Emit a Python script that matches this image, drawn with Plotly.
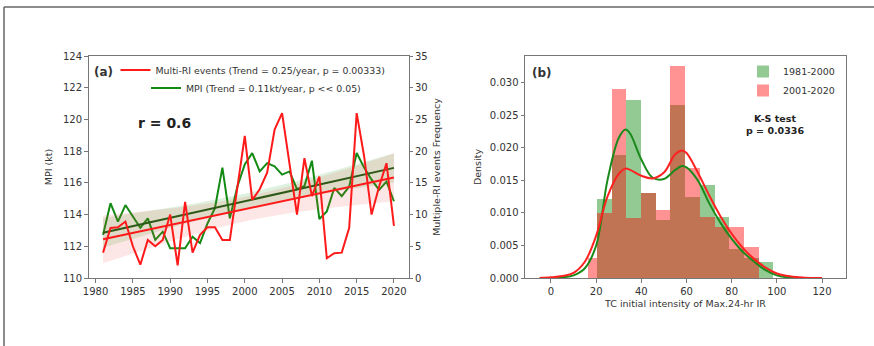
import numpy as np
import plotly.graph_objects as go

# ---------------- data: panel (a) ----------------
years = list(range(1981, 2021))
# MPI (kt), left axis
mpi_kt = [112.72, 114.72, 113.56, 114.6, 113.88, 113.16, 113.76, 112.4, 112.92, 111.88,
          111.88, 111.88, 112.6, 112.2, 113.44, 114.4, 116.96, 113.76, 115.76, 117.16,
          117.88, 116.72, 117.24, 117.04, 116.52, 116.72, 115.6, 115.8, 117.4, 113.72,
          114.2, 115.68, 115.16, 115.76, 117.88, 116.96, 116.2, 115.56, 116.08, 114.84]
# Multi-RI events frequency, right axis
multi_ri = [4.0, 7.9, 8.0, 8.9, 5.0, 2.1, 6.0, 5.0, 6.0, 10.0,
            2.0, 12.0, 4.0, 6.8, 8.0, 8.0, 6.0, 6.0, 14.2, 22.4,
            12.3, 14.0, 16.6, 23.4, 26.0, 18.0, 10.0, 18.9, 12.9, 16.0,
            3.1, 3.9, 4.0, 7.9, 26.0, 19.2, 10.0, 14.4, 18.1, 8.2]
# trend lines (value at first year, slope per year)
mpi_trend = [112.85, 0.105]
ri_trend = [6.1, 0.25]

# ---------------- data: panel (b) ----------------
g_edges = [20.4, 26.9, 33.4, 39.9, 46.4, 52.9, 59.4, 65.9, 72.4, 78.9, 85.4, 91.9, 98.4]
g_dens = [0.0121, 0.0189, 0.0274, 0.0130, 0.0089, 0.0266, 0.0125, 0.0143, 0.0094, 0.0045, 0.0030, 0.0025]
r_edges = [16.6, 20.4, 26.9, 33.4, 39.9, 46.4, 52.9, 59.4, 65.9, 72.4, 78.9, 85.4, 91.9]
r_dens = [0.0030, 0.0100, 0.0291, 0.0092, 0.0130, 0.0104, 0.0325, 0.0169, 0.0094, 0.0079, 0.0079, 0.0048]

kde_x = [-5, 0, 5, 10, 15, 20, 25, 30, 33, 35, 40, 45, 50, 55, 58, 60, 65, 70, 75, 80,
         85, 90, 95, 100, 105, 110, 115, 120]
kde_g = [0.0, 0.0, 0.0001, 0.0004, 0.0015, 0.0050, 0.0150, 0.0215, 0.0228, 0.0222, 0.0182, 0.0154,
         0.0152, 0.0166, 0.0172, 0.0170, 0.0150, 0.0115, 0.0085, 0.0060, 0.0040, 0.0025,
         0.0012, 0.0004, 0.0001, 0.0, 0.0, 0.0]
kde_r = [0.0, 0.0001, 0.0003, 0.0008, 0.0025, 0.0065, 0.0125, 0.0160, 0.0168, 0.0166, 0.0157, 0.0153,
         0.0162, 0.0190, 0.0196, 0.0192, 0.0162, 0.0127, 0.0095, 0.0068, 0.0046, 0.0029,
         0.0016, 0.0007, 0.0003, 0.0001, 0.0, 0.0]

# ---------------- helpers ----------------
W, H = 874, 346
def px(x):
    return x / W
def py(y):
    return (H - y) / H

FONT = "DejaVu Sans"
TXT = "#333333"
AX = "#777777"

yr = np.array(years, dtype=float)

def trend_band(vals, trend):
    v = np.array(vals, dtype=float)
    line = trend[0] + trend[1] * (yr - yr[0])
    resid = v - line
    n = len(v)
    s = np.sqrt(np.sum(resid ** 2) / (n - 2))
    sxx = np.sum((yr - yr.mean()) ** 2)
    half = 2.02 * s * np.sqrt(1.0 / n + (yr - yr.mean()) ** 2 / sxx)
    return line, line - half, line + half

mpi_line, mpi_lo, mpi_hi = trend_band(mpi_kt, mpi_trend)
ri_line, ri_lo, ri_hi = trend_band(multi_ri, ri_trend)

fig = go.Figure()

# --- panel (a), left axis (MPI) ---
fig.add_trace(go.Scatter(x=years, y=list(mpi_lo), mode="lines", line=dict(width=0),
                         showlegend=False, hoverinfo="skip", xaxis="x", yaxis="y"))
fig.add_trace(go.Scatter(x=years, y=list(mpi_hi), mode="lines", line=dict(width=0),
                         fill="tonexty", fillcolor="rgba(0,140,0,0.13)",
                         showlegend=False, hoverinfo="skip", xaxis="x", yaxis="y"))
fig.add_trace(go.Scatter(x=years, y=mpi_kt, mode="lines", line=dict(color="#138a13", width=2),
                         name="MPI (Trend = 0.11kt/year, p << 0.05)", legend="legend2",
                         xaxis="x", yaxis="y"))
fig.add_trace(go.Scatter(x=years, y=list(mpi_line), mode="lines",
                         line=dict(color="#105c10", width=2), showlegend=False,
                         xaxis="x", yaxis="y"))

# --- panel (a), right axis (Multi-RI) ---
fig.add_trace(go.Scatter(x=years, y=list(ri_lo), mode="lines", line=dict(width=0),
                         showlegend=False, hoverinfo="skip", xaxis="x", yaxis="y2"))
fig.add_trace(go.Scatter(x=years, y=list(ri_hi), mode="lines", line=dict(width=0),
                         fill="tonexty", fillcolor="rgba(240,70,60,0.13)",
                         showlegend=False, hoverinfo="skip", xaxis="x", yaxis="y2"))
fig.add_trace(go.Scatter(x=years, y=multi_ri, mode="lines", line=dict(color="#ff1a1a", width=2),
                         name="Multi-RI events (Trend = 0.25/year, p = 0.00333)", legend="legend",
                         xaxis="x", yaxis="y2"))
fig.add_trace(go.Scatter(x=years, y=list(ri_line), mode="lines",
                         line=dict(color="#ff1a1a", width=2), showlegend=False,
                         xaxis="x", yaxis="y2"))

# --- panel (b) histograms ---
def centers(edges):
    return [(edges[i] + edges[i + 1]) / 2 for i in range(len(edges) - 1)]
def widths(edges):
    return [edges[i + 1] - edges[i] for i in range(len(edges) - 1)]

fig.add_trace(go.Bar(x=centers(g_edges), y=g_dens, width=widths(g_edges),
                     marker=dict(color="green", line=dict(width=0)), opacity=0.42,
                     name="1981-2000", legend="legend3", xaxis="x2", yaxis="y3"))
fig.add_trace(go.Bar(x=centers(r_edges), y=r_dens, width=widths(r_edges),
                     marker=dict(color="red", line=dict(width=0)), opacity=0.42,
                     name="2001-2020", legend="legend3", xaxis="x2", yaxis="y3"))
fig.add_trace(go.Scatter(x=kde_x, y=kde_g, mode="lines", line=dict(color="#1a8a1a", width=2, shape="spline"),
                         showlegend=False, xaxis="x2", yaxis="y3"))
fig.add_trace(go.Scatter(x=kde_x, y=kde_r, mode="lines", line=dict(color="#ff2020", width=2, shape="spline"),
                         showlegend=False, xaxis="x2", yaxis="y3"))

tickfont = dict(family=FONT, size=10, color=TXT)
axcommon = dict(showline=True, linecolor=AX, linewidth=1, ticks="outside",
                ticklen=3.5, tickcolor=AX, showgrid=False, zeroline=False, tickfont=tickfont,
                automargin=False)
titlefont = dict(family=FONT, size=9.5, color=TXT)

fig.update_layout(
    width=W, height=H, margin=dict(l=0, r=0, t=0, b=0),
    paper_bgcolor="white", plot_bgcolor="white", barmode="overlay", bargap=0,
    font=dict(family=FONT, color=TXT),
    xaxis=dict(domain=[px(88.5), px(408.5)], range=[1979.05, 2021.95], anchor="y", mirror=True,
               tickvals=[1980, 1985, 1990, 1995, 2000, 2005, 2010, 2015, 2020], **axcommon),
    yaxis=dict(domain=[py(278), py(56)], range=[110, 124], anchor="x",
               tickvals=list(range(110, 125, 2)),
               title=dict(text="MPI (kt)", font=titlefont, standoff=8), **axcommon),
    yaxis2=dict(range=[0, 35], overlaying="y", side="right", anchor="x",
                tickvals=list(range(0, 36, 5)),
                title=dict(text="Multiple-RI events Frequency", font=titlefont, standoff=6),
                **axcommon),
    xaxis2=dict(domain=[px(525), px(846)], range=[-11.5, 130.6], anchor="y3", mirror=True,
                tickvals=[0, 20, 40, 60, 80, 100, 120],
                title=dict(text="TC initial intensity of Max.24-hr IR", font=titlefont, standoff=4),
                **axcommon),
    yaxis3=dict(domain=[py(278), py(56)], range=[0, 0.0341], anchor="x2", mirror=True,
                tickvals=[0, 0.005, 0.01, 0.015, 0.02, 0.025, 0.03], tickformat=".3f",
                title=dict(text="Density", font=titlefont, standoff=6),
                **axcommon),
    legend=dict(x=px(253), y=py(70), xanchor="center", yanchor="middle",
                font=dict(family=FONT, size=9.4, color=TXT), bgcolor="rgba(0,0,0,0)",
                itemwidth=30),
    legend2=dict(x=px(256), y=py(88), xanchor="center", yanchor="middle",
                 font=dict(family=FONT, size=9.4, color=TXT), bgcolor="rgba(0,0,0,0)",
                 itemwidth=30),
    legend3=dict(x=px(840), y=py(57), xanchor="right", yanchor="top",
                 font=dict(family=FONT, size=9.5, color=TXT), bgcolor="rgba(0,0,0,0)",
                 itemwidth=30, tracegroupgap=0, itemsizing="constant"),
    annotations=[
        dict(x=px(92), y=py(72), xref="paper", yref="paper", text="<b>(a)</b>", showarrow=False,
             xanchor="left", yanchor="middle", font=dict(family=FONT, size=12, color=TXT)),
        dict(x=px(136), y=py(123), xref="paper", yref="paper", text="<b>r = 0.6</b>", showarrow=False,
             xanchor="left", yanchor="middle", font=dict(family=FONT, size=14, color="#222")),
        dict(x=px(530), y=py(73), xref="paper", yref="paper", text="<b>(b)</b>", showarrow=False,
             xanchor="left", yanchor="middle", font=dict(family=FONT, size=12, color=TXT)),
        dict(x=px(775), y=py(124), xref="paper", yref="paper", text="<b>K-S test<br>p = 0.0336</b>",
             showarrow=False, xanchor="center", yanchor="middle", align="center",
             font=dict(family=FONT, size=9.5, color="#222")),
    ],
    shapes=[
        dict(type="line", xref="paper", yref="paper", x0=px(4), x1=1.0, y0=py(7), y1=py(7),
             line=dict(color="#666", width=1.5)),
        dict(type="line", xref="paper", yref="paper", x0=px(4), x1=px(4), y0=0, y1=py(7),
             line=dict(color="#666", width=1.5)),
    ],
)

fig.write_html("out.html", config={"displayModeBar": False},
               post_script="document.body.style.margin='0px';")
